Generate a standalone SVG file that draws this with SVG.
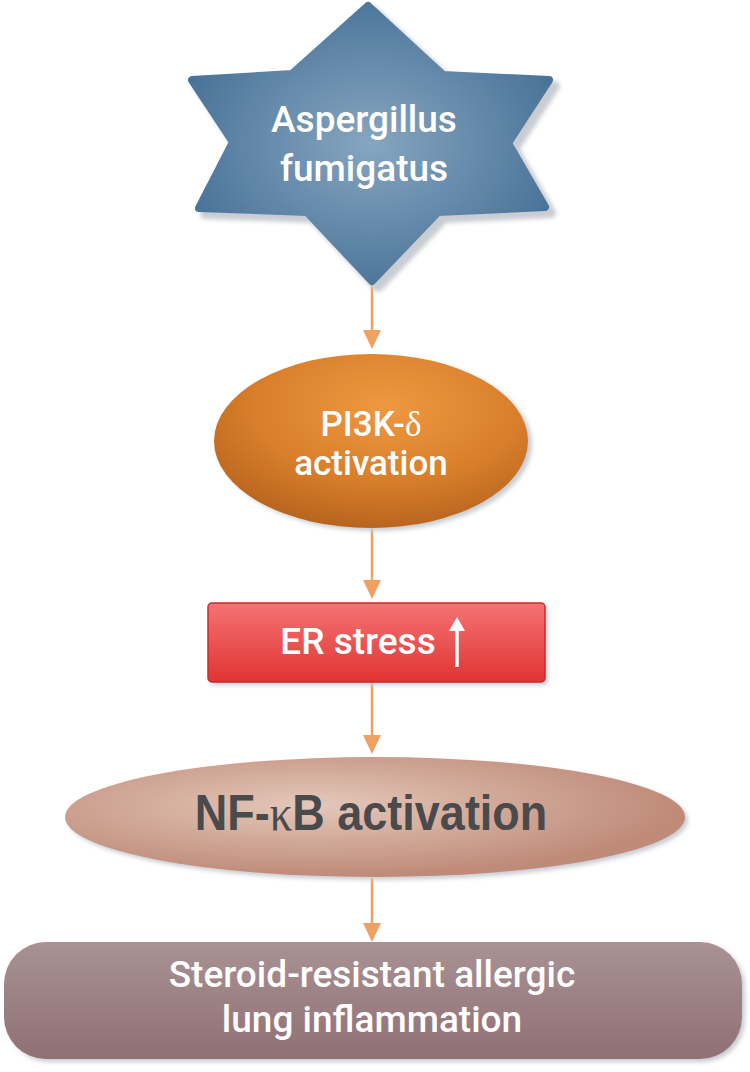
<svg xmlns="http://www.w3.org/2000/svg" width="750" height="1072" viewBox="0 0 750 1072">
<defs>
<style>
.lbl{font-family:Roboto,"Liberation Sans",Arial,sans-serif;font-weight:500;fill:#ffffff;text-anchor:middle}
.conn{stroke:#f0a060;stroke-width:2.5;fill:none}
.shadow{fill:#c9ccd2;filter:url(#blur)}
</style>
<filter id="blur" x="-10%" y="-10%" width="120%" height="120%"><feGaussianBlur stdDeviation="2"/></filter>
<radialGradient id="gStar" cx="0.5" cy="0.5" r="0.55">
<stop offset="0" stop-color="#86a6c0"/>
<stop offset="1" stop-color="#4a7399"/>
</radialGradient>
<radialGradient id="gOrange" cx="0.55" cy="0.3" r="0.7">
<stop offset="0" stop-color="#ee9840"/>
<stop offset="0.6" stop-color="#d97f2c"/>
<stop offset="1" stop-color="#b8651e"/>
</radialGradient>
<linearGradient id="gRed" x1="0" y1="0" x2="0" y2="1">
<stop offset="0" stop-color="#f57373"/>
<stop offset="1" stop-color="#e03434"/>
</linearGradient>
<radialGradient id="gNF" cx="0.4" cy="0.4" r="0.6">
<stop offset="0" stop-color="#e4c8ba"/>
<stop offset="1" stop-color="#bf8a78"/>
</radialGradient>
<linearGradient id="gBot" x1="0" y1="0" x2="0" y2="1">
<stop offset="0" stop-color="#a99294"/>
<stop offset="1" stop-color="#8f7074"/>
</linearGradient>
</defs>
<rect width="750" height="1072" fill="#ffffff"/>

<g id="connectors">
<line class="conn" x1="372" y1="284" x2="372" y2="332"/>
<polygon points="363,330 381,330 372,349" fill="#f0a060"/>
<line class="conn" x1="372" y1="528" x2="372" y2="582"/>
<polygon points="363,580 381,580 372,599" fill="#f0a060"/>
<line class="conn" x1="372" y1="682" x2="372" y2="737"/>
<polygon points="363,735 381,735 372,754" fill="#f0a060"/>
<line class="conn" x1="372" y1="878" x2="372" y2="925"/>
<polygon points="363,923 381,923 372,942" fill="#f0a060"/>
</g>

<g id="node-aspergillus">
<path class="shadow" transform="translate(6,6)" d="M368,6 L443,75 L549,80 L508,143 L545,207 L438,212 L372,281 L307,212 L199,208 L233,142 L192,80 L292,74 Z" stroke="#c9ccd2" stroke-width="10" stroke-linejoin="round"/>
<path d="M368,6 L443,75 L549,80 L508,143 L545,207 L438,212 L372,281 L307,212 L199,208 L233,142 L192,80 L292,74 Z" fill="url(#gStar)" stroke="url(#gStar)" stroke-width="8" stroke-linejoin="round"/>
<text class="lbl" x="364" y="132" font-size="37">Aspergillus</text>
<text class="lbl" x="364" y="181" font-size="37">fumigatus</text>
</g>

<g id="node-pi3k">
<ellipse class="shadow" cx="375" cy="444" rx="157" ry="87"/>
<ellipse cx="371" cy="441" rx="157" ry="87" fill="url(#gOrange)"/>
<text class="lbl" x="371" y="436" font-size="35">PI3K-<tspan font-family="'Liberation Serif',serif" font-weight="normal">δ</tspan></text>
<text class="lbl" x="371" y="475" font-size="35">activation</text>
</g>

<g id="node-er">
<rect class="shadow" x="211" y="606" width="337" height="79" rx="4"/>
<rect x="208" y="603" width="337" height="79" rx="4" fill="url(#gRed)" stroke="#cc2a2a" stroke-width="1.5"/>
<text class="lbl" x="358" y="654" font-size="37">ER stress</text>
<line x1="457" y1="628" x2="457" y2="667" stroke="#ffffff" stroke-width="3.5"/>
<polygon points="449,631 465,631 457,617" fill="#ffffff"/>
</g>

<g id="node-nfkb">
<ellipse class="shadow" cx="378" cy="820" rx="310" ry="60"/>
<ellipse cx="375" cy="817" rx="310" ry="60" fill="url(#gNF)"/>
<text x="371" y="830" font-size="45" font-weight="bold" text-anchor="middle" fill="#4a4a4c" font-family="'Liberation Sans',Arial,sans-serif" transform="translate(0,-96.5) scale(1,1.116)">NF-<tspan font-weight="normal" font-family="'Liberation Serif',serif">κ</tspan>B activation</text>
</g>

<g id="node-outcome">
<rect class="shadow" x="7" y="945" width="738" height="117" rx="42"/>
<rect x="4" y="942" width="738" height="117" rx="42" fill="url(#gBot)"/>
<text class="lbl" x="372" y="987" font-size="37">Steroid-resistant allergic</text>
<text class="lbl" x="372" y="1032" font-size="37">lung inflammation</text>
</g>
</svg>
